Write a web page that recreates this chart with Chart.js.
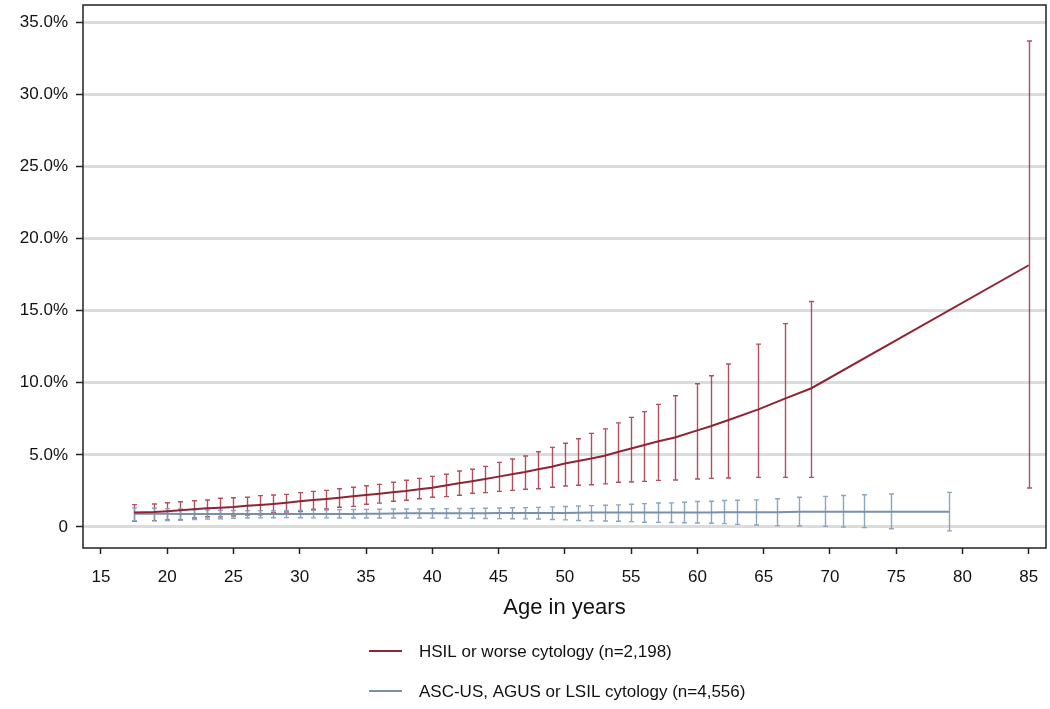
<!DOCTYPE html>
<html>
<head>
<meta charset="utf-8">
<script src="https://cdn.jsdelivr.net/npm/chart.js@4.4.1/dist/chart.umd.min.js"></script>
<style>
html,body{margin:0;padding:0;background:#ffffff;}
#wrap{width:1050px;height:709px;position:relative;}
</style>
</head>
<body>
<div id="wrap"><canvas id="c" width="1050" height="709"></canvas></div>
<script>
// ---- data (percent) ----
const hsilAge = [17.5,19,20,21,22,23,24,25,26,27,28,29,30,31,32,33,34,35,36,37,38,39,40,41,42,43,44,45,46,47,48,49,50,51,52,53,54,55,56,57,58.3,60,61,62.3,64.6,66.6,68.6,85];
const hsilEst = [1.00,1.04,1.09,1.15,1.23,1.29,1.34,1.39,1.47,1.52,1.59,1.68,1.78,1.87,1.94,2.03,2.13,2.22,2.30,2.40,2.49,2.61,2.72,2.88,3.03,3.17,3.33,3.49,3.65,3.81,4.00,4.18,4.40,4.58,4.75,4.94,5.20,5.44,5.68,5.93,6.20,6.70,6.98,7.40,8.15,8.90,9.62,18.15];
const hsilLo  = [0.39,0.44,0.49,0.50,0.62,0.71,0.70,0.76,0.83,0.85,0.99,1.04,1.06,1.23,1.25,1.37,1.43,1.57,1.65,1.78,1.85,1.96,2.06,2.10,2.20,2.34,2.38,2.47,2.54,2.61,2.65,2.75,2.84,2.89,2.93,2.99,3.10,3.12,3.16,3.23,3.26,3.33,3.37,3.40,3.44,3.44,3.44,2.70];
const hsilHi  = [1.55,1.59,1.68,1.75,1.82,1.87,1.99,2.03,2.06,2.17,2.22,2.26,2.38,2.47,2.54,2.65,2.75,2.86,2.95,3.10,3.24,3.37,3.51,3.65,3.88,4.00,4.20,4.48,4.71,4.92,5.22,5.52,5.80,6.12,6.49,6.80,7.22,7.60,8.00,8.50,9.10,9.93,10.49,11.30,12.68,14.10,15.64,33.70];

const ascAge = [17.5,19,20,21,22,23,24,25,26,27,28,29,30,31,32,33,34,35,36,37,38,39,40,41,42,43,44,45,46,47,48,49,50,51,52,53,54,55,56,57,58,59,60,61,62,63,64.4,66.0,67.7,69.6,71.0,72.6,74.6,79.0];
const ascEst = [0.92,0.91,0.91,0.90,0.90,0.90,0.90,0.90,0.90,0.90,0.90,0.90,0.90,0.90,0.90,0.90,0.90,0.91,0.92,0.94,0.95,0.95,0.95,0.95,0.95,0.95,0.95,0.96,0.96,0.96,0.96,0.97,0.97,0.98,1.00,1.00,1.00,1.01,1.01,1.01,1.01,1.01,1.01,1.01,1.02,1.02,1.02,1.02,1.05,1.05,1.05,1.05,1.05,1.05];
const ascLo  = [0.42,0.42,0.45,0.48,0.52,0.55,0.57,0.60,0.62,0.63,0.64,0.65,0.64,0.63,0.63,0.62,0.62,0.62,0.62,0.62,0.62,0.62,0.61,0.61,0.60,0.60,0.59,0.58,0.57,0.56,0.55,0.52,0.49,0.45,0.42,0.41,0.40,0.37,0.33,0.32,0.31,0.29,0.27,0.26,0.23,0.18,0.13,0.09,0.07,0.04,-0.01,-0.05,-0.12,-0.27];
const ascHi  = [1.32,1.30,1.27,1.25,1.21,1.18,1.16,1.14,1.13,1.13,1.12,1.12,1.14,1.16,1.18,1.20,1.21,1.22,1.23,1.24,1.24,1.25,1.26,1.27,1.28,1.29,1.30,1.31,1.33,1.34,1.36,1.39,1.42,1.45,1.48,1.50,1.53,1.57,1.62,1.66,1.67,1.71,1.76,1.78,1.83,1.85,1.88,1.96,2.06,2.12,2.18,2.23,2.28,2.40];

const seriesLabels = ['HSIL or worse cytology (n=2,198)', 'ASC-US, AGUS or LSIL cytology (n=4,556)'];
const xTickValues = [15,20,25,30,35,40,45,50,55,60,65,70,75,80,85];
const yTickValues = [0,5,10,15,20,25,30,35];
const yTickLabels = ['0','5.0%','10.0%','15.0%','20.0%','25.0%','30.0%','35.0%'];
const xTitle = 'Age in years';

// ---- styles ----
const RED = '#8e2535', RED_ERR = 'rgba(168,62,76,0.9)';
const BLUE = '#7890aa', BLUE_ERR = 'rgba(136,160,188,0.95)';
const FONT = "'Liberation Sans', Arial, Helvetica, sans-serif";

Chart.defaults.font.family = FONT;
Chart.defaults.color = '#111';

const toPts = (xs, ys) => xs.map((v, i) => ({x: v, y: ys[i]}));

const errorBarPlugin = {
  id: 'errbars',
  beforeDatasetsDraw(chart) {
    const {ctx, chartArea, scales: {x, y}} = chart;
    ctx.save();
    ctx.beginPath();
    ctx.rect(chartArea.left, chartArea.top, chartArea.right - chartArea.left, chartArea.bottom - chartArea.top);
    ctx.clip();
    chart.data.datasets.forEach(ds => {
      if (!ds.errLo) return;
      const cap = 2.5;
      ctx.strokeStyle = ds.errColor;
      ctx.lineWidth = 1.4;
      ctx.beginPath();
      ds.data.forEach((p, j) => {
        const px = Math.round(x.getPixelForValue(p.x)) + 0.5;
        const yl = y.getPixelForValue(ds.errLo[j]);
        const yh = y.getPixelForValue(ds.errHi[j]);
        ctx.moveTo(px, yl); ctx.lineTo(px, yh);
        ctx.moveTo(px - cap, yl); ctx.lineTo(px + cap, yl);
        ctx.moveTo(px - cap, yh); ctx.lineTo(px + cap, yh);
      });
      ctx.stroke();
    });
    ctx.restore();
  }
};

const frameLegendPlugin = {
  id: 'frameLegend',
  afterDraw(chart) {
    const {ctx, chartArea} = chart;
    ctx.save();
    ctx.strokeStyle = '#222';
    ctx.lineWidth = 1.5;
    ctx.strokeRect(chartArea.left, chartArea.top, chartArea.right - chartArea.left, chartArea.bottom - chartArea.top);
    // legend (two stacked rows)
    ctx.font = "17px " + FONT;
    ctx.textBaseline = 'middle';
    ctx.textAlign = 'left';
    chart.data.datasets.forEach((ds, i) => {
      const yy = 651 + i * 40;
      ctx.strokeStyle = ds.borderColor;
      ctx.lineWidth = 2;
      ctx.beginPath(); ctx.moveTo(369, yy); ctx.lineTo(402, yy); ctx.stroke();
      ctx.fillStyle = '#111';
      ctx.fillText(ds.label, 419, yy + 1);
    });
    ctx.restore();
  }
};

new Chart(document.getElementById('c'), {
  type: 'line',
  data: {
    datasets: [
      {label: seriesLabels[0], data: toPts(hsilAge, hsilEst), errLo: hsilLo, errHi: hsilHi, errColor: RED_ERR,
       borderColor: RED, borderWidth: 2, pointRadius: 0, tension: 0, fill: false},
      {label: seriesLabels[1], data: toPts(ascAge, ascEst), errLo: ascLo, errHi: ascHi, errColor: BLUE_ERR,
       borderColor: BLUE, borderWidth: 2, pointRadius: 0, tension: 0, fill: false}
    ]
  },
  options: {
    responsive: false,
    animation: false,
    layout: {padding: {left: 0, right: 4, top: 5, bottom: 76}},
    plugins: {legend: {display: false}, tooltip: {enabled: false}},
    scales: {
      x: {
        type: 'linear', min: 13.65, max: 86.3,
        afterBuildTicks: s => { s.ticks = xTickValues.map(v => ({value: v})); },
        afterFit: s => { s.height = 85; s.paddingLeft = 0; s.paddingRight = 0; },
        ticks: {font: {size: 17}, color: '#111', padding: 13, maxRotation: 0, autoSkip: false},
        grid: {drawOnChartArea: false, drawTicks: true, tickLength: 6, tickColor: '#222', tickWidth: 1.5},
        border: {display: false},
        title: {display: true, text: xTitle, font: {size: 22}, color: '#111', padding: {top: 0, bottom: 12}}
      },
      y: {
        type: 'linear', min: -1.46, max: 36.2,
        afterBuildTicks: s => { s.ticks = yTickValues.map(v => ({value: v})); },
        afterFit: s => { s.width = 83; s.paddingTop = 0; s.paddingBottom = 0; },
        ticks: {font: {size: 17}, color: '#111', padding: 8, autoSkip: false,
                callback: (v, i) => yTickLabels[i]},
        grid: {color: '#dcdcdc', lineWidth: 3, drawTicks: true, tickLength: 7, tickColor: '#222', tickWidth: 1.5},
        border: {display: false}
      }
    }
  },
  plugins: [errorBarPlugin, frameLegendPlugin]
});
</script>
</body>
</html>
